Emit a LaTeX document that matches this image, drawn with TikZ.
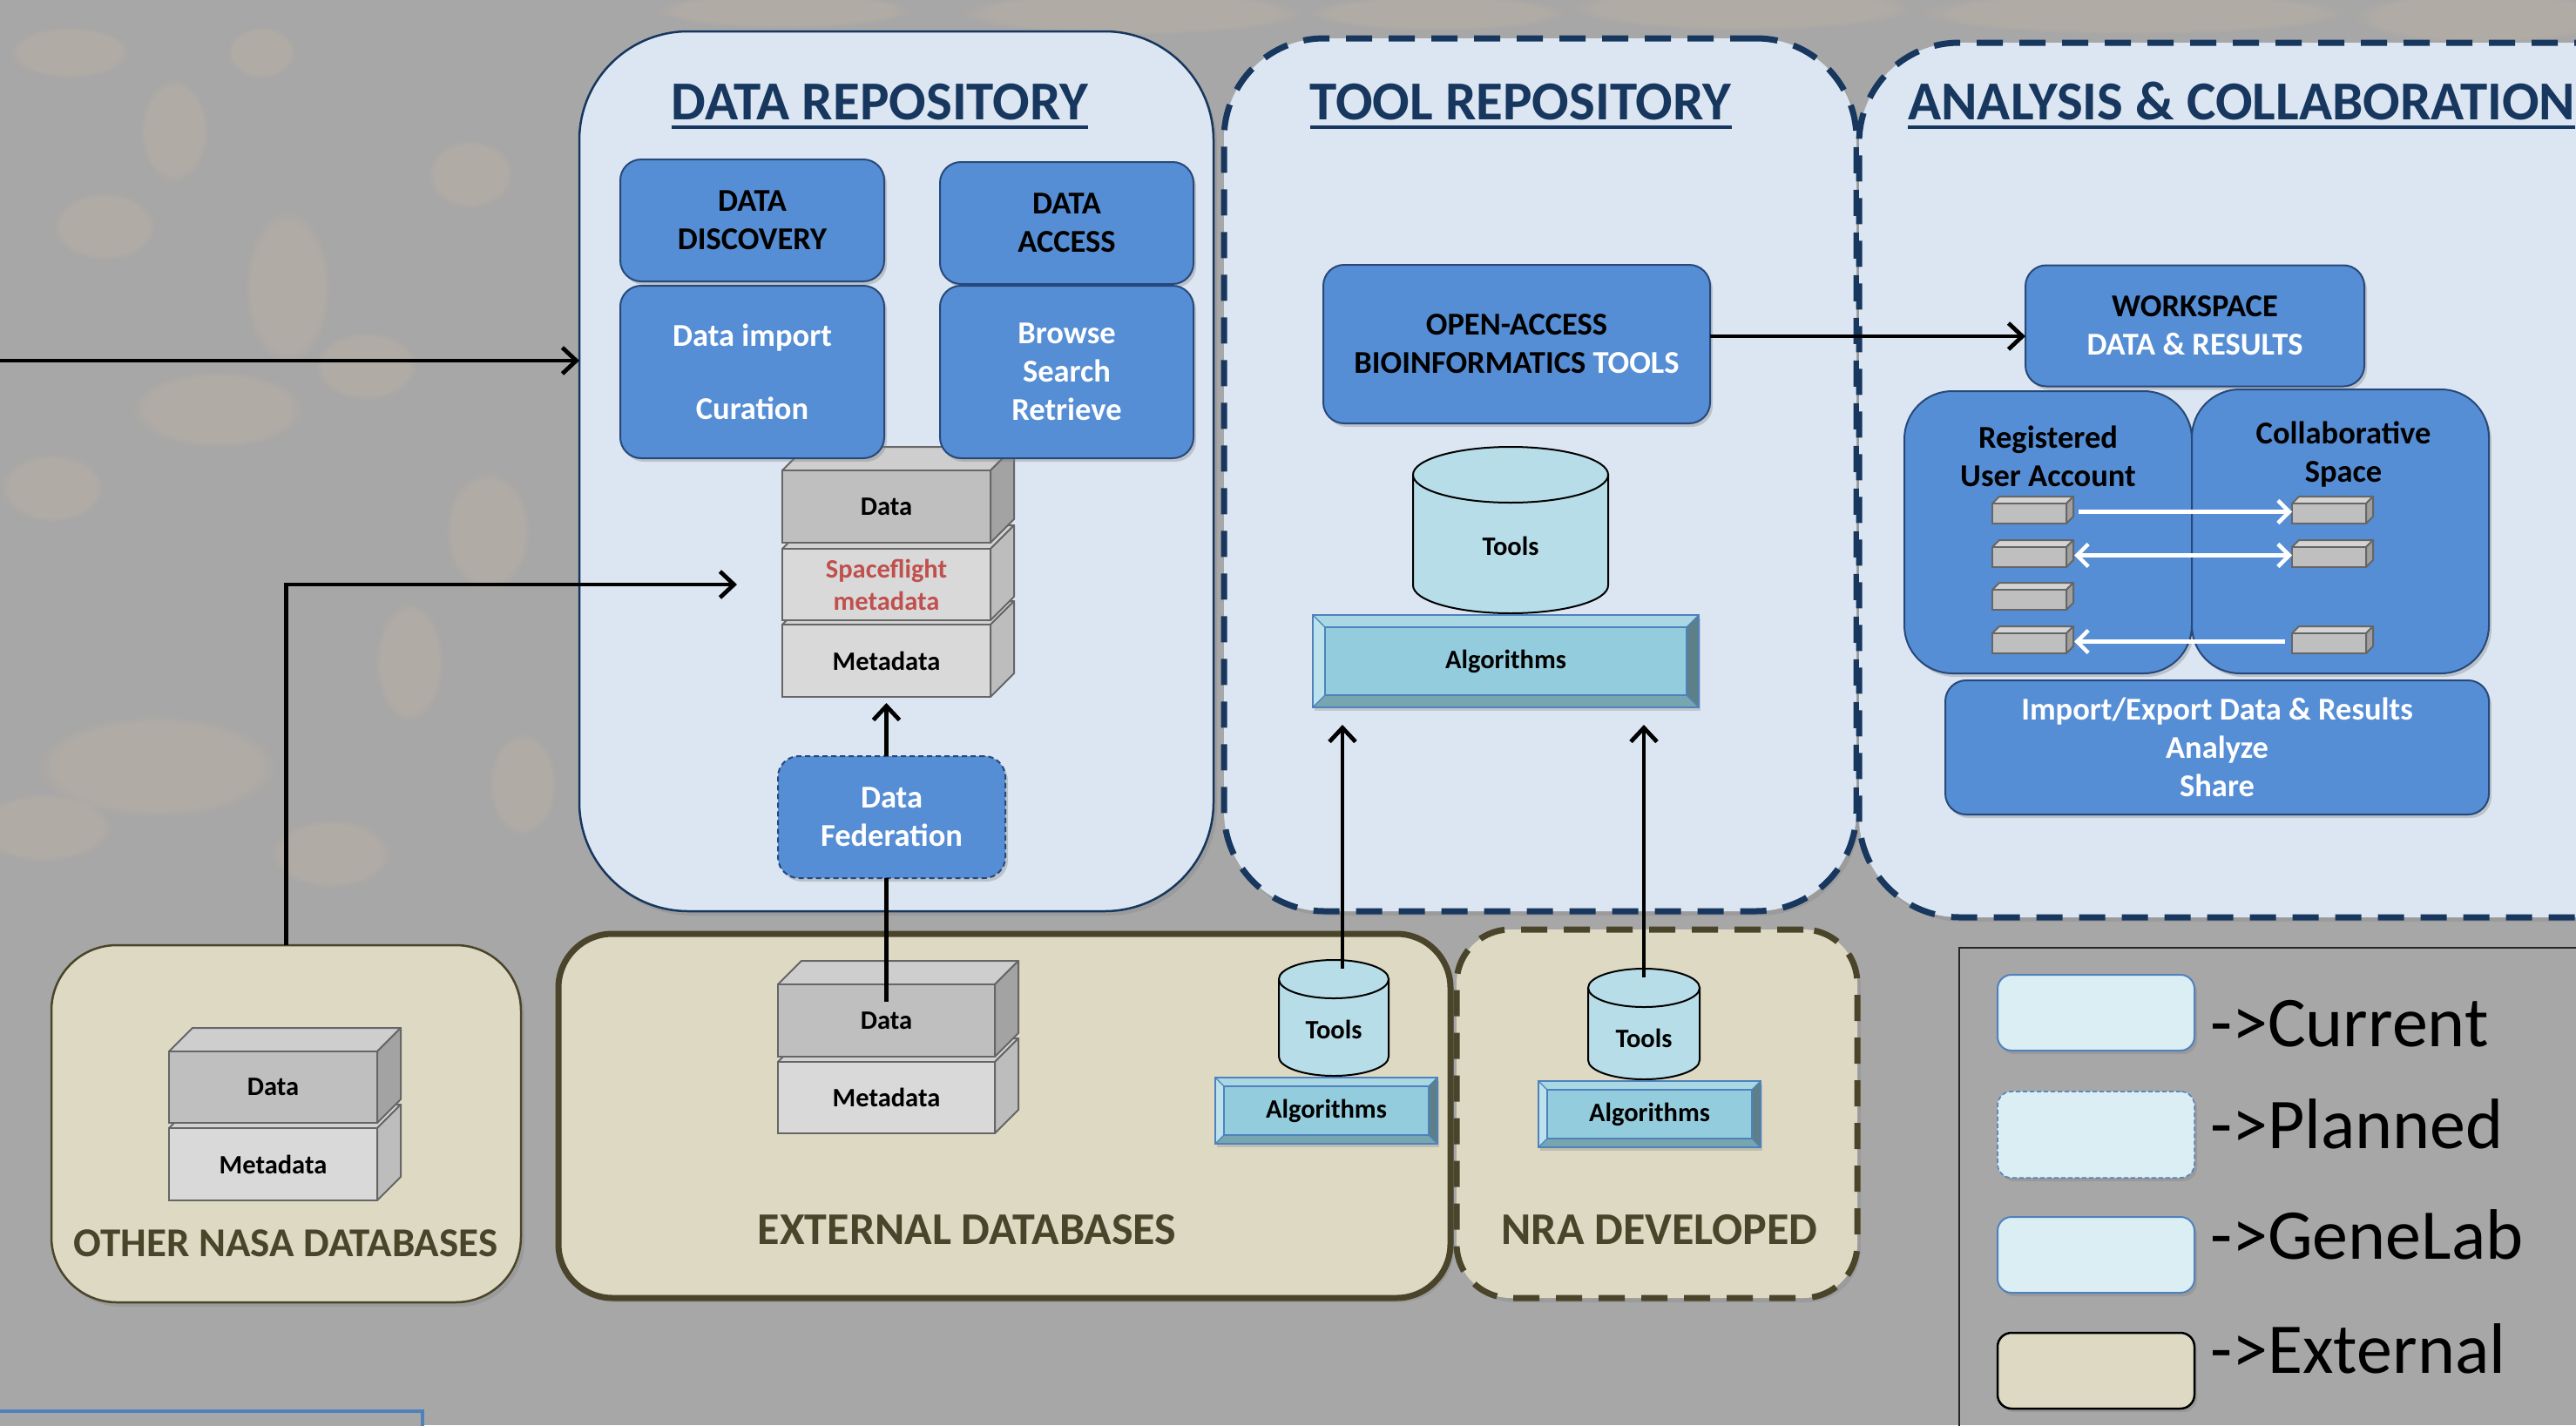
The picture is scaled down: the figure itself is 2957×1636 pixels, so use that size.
\documentclass[tikz,border=0pt]{standalone}
\usepackage{fontspec}
\setmainfont{Carlito}
\usetikzlibrary{arrows.meta,shadows,fadings,calc}
\definecolor{bgc}{HTML}{A7A7A7}
\definecolor{lblue}{HTML}{DCE6F2}
\definecolor{navy}{HTML}{17375E}
\definecolor{mblue}{HTML}{558ED5}
\definecolor{mbord}{HTML}{27487A}
\definecolor{tanc}{HTML}{DDD9C3}
\definecolor{olive}{HTML}{4A452A}
\definecolor{cylc}{HTML}{B7DDE8}
\definecolor{algc}{HTML}{93CDDD}
\definecolor{algT}{HTML}{A9D8E4}
\definecolor{algL}{HTML}{BCE2EC}
\definecolor{algB}{HTML}{77A6B0}
\definecolor{algR}{HTML}{5C7F88}
\definecolor{algbord}{HTML}{4F81BD}
\definecolor{redtxt}{HTML}{C0504D}
\definecolor{swc}{HTML}{DBEEF4}
\definecolor{dfront}{HTML}{BFBFBF}
\definecolor{dtop}{HTML}{CECECE}
\definecolor{dside}{HTML}{A3A3A3}
\definecolor{mfront}{HTML}{D9D9D9}
\definecolor{mtop}{HTML}{D2D2D2}
\definecolor{mside}{HTML}{BDBDBD}
\definecolor{sfront}{HTML}{BFBFBF}
\definecolor{stop}{HTML}{D4D4D4}
\definecolor{sside}{HTML}{A0A0A0}
\definecolor{blob}{HTML}{CDB8A0}
\newcommand\bxf{\fontsize{36.5}{44}\selectfont\bfseries}
\newcommand\cbf{\fontsize{30.5}{37}\selectfont\bfseries}
\newcommand\ttlf{\fontsize{63}{70}\selectfont\bfseries}
\newcommand\lblf{\fontsize{52}{60}\selectfont\bfseries}
\newcommand\legf{\fontsize{82}{90}\selectfont}
% name, x, y (top-left of front), w, h, depth, colour prefix, text
\newcommand\cubenode[8]{%
  \filldraw[cubeline, fill=#7top] (#2,#3) -- ++(#6,-#6) -- ++(#4,0) -- ++(-#6,#6) -- cycle;
  \filldraw[cubeline, fill=#7side] (#2+#4,#3) -- ++(#6,-#6) -- ++(0,#5) -- ++(-#6,#6) -- cycle;
  \node[cubefront, fill=#7front, minimum width=#4pt, minimum height=#5pt, anchor=north west] (#1) at (#2,#3) {#8};
}
% name, cx, ytop, ybottom, rx, ry, text, text y
\newcommand\mkcyl[8]{%
  \filldraw[fill=cylc, draw=black, line width=2pt] (#2-#5,#3) -- (#2-#5,#4) arc[start angle=180, end angle=0, x radius=#5, y radius=#6] -- (#2+#5,#3) -- cycle;
  \filldraw[fill=cylc, draw=black, line width=2pt] (#2,#3) ellipse [x radius=#5, y radius=#6];
  \coordinate (#1top) at (#2,#3-#6);
  \node[cubetext] (#1) at (#2,#8) {#7};
}
% name, cx, cy, w, h, bevel, text
\newcommand\bevelbox[7]{%
  \node[draw=algbord, line width=2.5pt, fill=algc, minimum width=#4pt, minimum height=#5pt, inner sep=0pt, outer sep=0pt, drop shadow={opacity=0.3,shadow xshift=2pt,shadow yshift=-4pt}] (#1) at (#2,#3) {};
  \fill[algT] (#1.north west) -- (#1.north east) -- ++(-#6,#6) -- ($(#1.north west)+(#6,#6)$) -- cycle;
  \fill[algL] (#1.north west) -- ++(#6,#6) -- ($(#1.south west)+(#6,-#6)$) -- (#1.south west) -- cycle;
  \fill[algB] (#1.south west) -- ++(#6,-#6) -- ($(#1.south east)+(-#6,-#6)$) -- (#1.south east) -- cycle;
  \fill[algR] (#1.north east) -- ++(-#6,#6) -- ($(#1.south east)+(-#6,-#6)$) -- (#1.south east) -- cycle;
  \draw[algbord, line width=2pt] ($(#1.north west)+(#6,#6)$) rectangle ($(#1.south east)+(-#6,-#6)$);
  \draw[algbord, line width=1.2pt] (#1.north west) -- ++(#6,#6) (#1.north east) -- ++(-#6,#6) (#1.south west) -- ++(#6,-#6) (#1.south east) -- ++(-#6,-#6);
  \draw[algbord, line width=2.5pt] (#1.north west) rectangle (#1.south east);
  \node[cubetext] (#1t) at (#1) {#7};
}
\begin{document}
\begin{tikzpicture}[x=1pt,y=-1pt,
  cont/.style={fill=lblue, inner sep=0pt, outer sep=0pt, drop shadow={opacity=0.3, shadow xshift=4pt, shadow yshift=-5pt}},
  tanbox/.style={fill=tanc, draw=olive, inner sep=0pt, outer sep=0pt, drop shadow={opacity=0.3, shadow xshift=4pt, shadow yshift=-5pt}},
  bluebox/.style={fill=mblue, draw=mbord, line width=2pt, rounded corners=24pt, inner sep=0pt, outer sep=0pt, align=center, font=\bxf, drop shadow={opacity=0.35, shadow xshift=3pt, shadow yshift=-4pt}},
  cubeline/.style={draw=black!60, line width=2pt, line join=round},
  cubefront/.style={draw=black!60, line width=2pt, inner sep=0pt, outer sep=0pt, align=center, font=\cbf},
  cubetext/.style={inner sep=0pt, align=center, font=\cbf},
  conn/.style={draw=black, line width=4.8pt, -{Straight Barb[length=16pt, width=30pt]}},
  plainline/.style={draw=black, line width=4.8pt},
  warr/.style={draw=white, line width=4.5pt},
  wtip/.style={-{Straight Barb[length=13pt, width=26pt]}},
  wtips/.style={{Straight Barb[length=13pt, width=26pt]}-{Straight Barb[length=13pt, width=26pt]}},
  ttl/.style={inner sep=0pt, text=navy, font=\ttlf},
  lbl/.style={inner sep=0pt, text=olive, font=\lblf},
  swatch/.style={fill=swc, draw=algbord, line width=2pt, rounded corners=16pt, inner sep=0pt, outer sep=0pt, minimum width=226pt, drop shadow={opacity=0.35, shadow xshift=3pt, shadow yshift=-4pt}},
  legtext/.style={inner sep=0pt, anchor=base west, font=\legf}
]
\useasboundingbox (0,0) rectangle (2957,1636);
\clip (0,0) rectangle (2957,1636);
\fill[bgc] (0,0) rectangle (2957,1636);
% blurred background texture
\foreach \bx/\by/\rx/\ry in {80/60/70/30, 200/150/40/60, 120/260/60/40, 330/330/50/90, 60/560/60/40,
  250/470/100/45, 420/420/60/40, 560/610/50/70, 470/760/40/70, 180/880/140/60, 50/950/80/40,
  380/980/70/40, 600/900/40/60, 300/60/40/30, 540/200/50/40, 900/12/150/20, 1300/15/200/25,
  1650/15/150/20, 2000/10/200/25, 2450/15/250/25, 2850/20/150/30}
  \fill[blob, opacity=0.28, path fading=circle with fuzzy edge 20 percent] (\bx,\by) ellipse [x radius=\rx, y radius=\ry];

% ---------- containers ----------
\node[cont, draw=navy, line width=2.5pt, rounded corners=125pt, minimum width=728pt, minimum height=1010pt] (drepo) at (1029,541) {};
\node[cont, draw=navy, line width=7pt, dash pattern=on 30pt off 19pt, rounded corners=115pt, minimum width=726pt, minimum height=1002pt] (trepo) at (1768,545) {};
\node[cont, draw=navy, line width=7pt, dash pattern=on 30pt off 19pt, rounded corners=115pt, minimum width=966pt, minimum height=1004pt] (arepo) at (2617,551) {};

\node[tanbox, line width=2.5pt, rounded corners=75pt, minimum width=539pt, minimum height=410pt] (onasa) at (328.5,1290) {};
\node[tanbox, line width=7pt, rounded corners=62pt, minimum width=1024pt, minimum height=418pt] (extdb) at (1153,1281) {};
\node[tanbox, line width=7pt, dash pattern=on 30pt off 19pt, rounded corners=62pt, minimum width=460pt, minimum height=423pt] (nra) at (1902,1278.5) {};

% ---------- titles ----------
\node[ttl, anchor=base] (t1) at (1010,137) {DATA REPOSITORY};
\draw[navy, line width=4.5pt] ($(t1.base west)+(0,9)$) -- ($(t1.base east)+(0,9)$);
\node[ttl, anchor=base] (t2) at (1745.5,137) {TOOL REPOSITORY};
\draw[navy, line width=4.5pt] ($(t2.base west)+(0,9)$) -- ($(t2.base east)+(0,9)$);
\node[ttl, anchor=base west] (t3) at (2190,137) {ANALYSIS \& COLLABORATION};
\draw[navy, line width=4.5pt] ($(t3.base west)+(0,9)$) -- ($(t3.base east)+(0,9)$);

% ---------- data repository stack ----------
\cubenode{dmeta}{898}{717}{239}{83}{27}{m}{Metadata}
\cubenode{dspf}{898}{630}{239}{82}{27}{m}{\textcolor{redtxt}{Spaceflight}\\\textcolor{redtxt}{metadata}}
\cubenode{ddata}{898}{540}{239}{83}{27}{d}{Data}

% ---------- data repository boxes ----------
\node[bluebox, minimum width=303pt, minimum height=140pt] (disc) at (863.5,253) {DATA\\DISCOVERY};
\node[bluebox, text=white, minimum width=303pt, minimum height=198pt] (imp) at (863.5,427) {Data import\\[40pt]Curation};
\node[bluebox, minimum width=291pt, minimum height=140pt] (acc) at (1224.5,256) {DATA\\ACCESS};
\node[bluebox, text=white, minimum width=291pt, minimum height=198pt] (brw) at (1224.5,427) {Browse\\Search\\Retrieve};
\node[bluebox, dash pattern=on 6pt off 4pt, text=white, minimum width=261pt, minimum height=140pt] (fed) at (1023.5,938) {Data\\Federation};

% ---------- other NASA / external stacks ----------
\cubenode{ometa}{194}{1295}{239}{83}{27}{m}{Metadata}
\cubenode{odata}{194}{1207}{239}{82}{27}{d}{Data}
\cubenode{emeta}{893}{1219}{249}{82}{27}{m}{Metadata}
\cubenode{edata}{893}{1130}{249}{83}{27}{d}{Data}

\node[lbl] (onasal) at (328,1427) {\fontsize{47}{54}\selectfont OTHER NASA DATABASES};
\node[lbl] (extl) at (1110,1411.5) {EXTERNAL DATABASES};
\node[lbl] (nral) at (1905,1411.5) {NRA DEVELOPED};

% ---------- tool repository ----------
\node[bluebox, minimum width=444pt, minimum height=182pt] (oa) at (1741,395) {OPEN-ACCESS\\BIOINFORMATICS \textcolor{white}{TOOLS}};
\mkcyl{ttools}{1734}{545}{672}{112}{32}{Tools}{627}
\bevelbox{talg}{1728.5}{759}{443}{106}{14}{Algorithms}

\mkcyl{etools}{1531}{1124}{1213}{63}{22}{Tools}{1182}
\bevelbox{ealg}{1522.5}{1275}{255}{76}{10}{Algorithms}
\mkcyl{ntools}{1887}{1134}{1217}{64}{22}{Tools}{1192}
\bevelbox{nalg}{1893.5}{1279}{255}{76}{10}{Algorithms}

% ---------- analysis & collaboration ----------
\node[bluebox, minimum width=389pt, minimum height=139pt] (ws) at (2519.5,374) {WORKSPACE\\\textcolor{white}{DATA \& RESULTS}};
\node[bluebox, rounded corners=55pt, minimum width=330pt, minimum height=324pt] (reg) at (2351,611) {};
\node[bluebox, rounded corners=55pt, minimum width=341pt, minimum height=326pt] (col) at (2686.5,610) {};
\node[cubetext, font=\bxf] (regt) at (2351,524) {Registered\\User Account};
\node[cubetext, font=\bxf] (colt) at (2690,522) {Collaborative\\Space};
\node[bluebox, text=white, minimum width=624pt, minimum height=154pt] (ie) at (2545,858) {Import/Export Data \& Results\\Analyze\\Share};

\cubenode{l1}{2287}{578}{85}{23}{8}{s}{}
\cubenode{l2}{2287}{628}{85}{23}{8}{s}{}
\cubenode{l3}{2287}{677}{85}{23}{8}{s}{}
\cubenode{l4}{2287}{727}{85}{23}{8}{s}{}
\cubenode{r1}{2631}{578}{85}{23}{8}{s}{}
\cubenode{r2}{2631}{628}{85}{23}{8}{s}{}
\cubenode{r4}{2631}{727}{85}{23}{8}{s}{}
\draw[warr, wtip] ($(l1.east)+(14,-2)$) -- ($(r1.west)+(0,-2)$);
\draw[warr, wtips] ($(l2.east)+(9,-2)$) -- ($(r2.west)+(0,-2)$);
\draw[warr, wtip] ($(r4.west)+(-8,-2)$) -- ($(l4.east)+(9,-2)$);

% ---------- connectors ----------
\coordinate (leftin) at (0,414);
\draw[conn] (leftin) -- (leftin -| drepo.west);
\draw[conn, shorten >=52pt] (onasa.north) |- (dspf.west);
\draw[conn, shorten >=7pt] (dmeta.south |- fed.north) -- (dmeta.south);
\draw[plainline, shorten >=-20pt] (dmeta.south |- fed.south) -- (edata.north -| dmeta.south);
\coordinate (etline) at (1541,1112);
\draw[conn, shorten >=20pt] (etline) -- (etline |- talg.south);
\coordinate (ntline) at (1887,1122);
\draw[conn, shorten >=20pt] (ntline) -- (ntline |- talg.south);
\coordinate (oaout) at (1963,386);
\draw[conn] (oaout) -- (oaout -| ws.west);

% ---------- legend ----------
\node[draw=black!85, line width=2pt, inner sep=0pt, anchor=north west, minimum width=800pt, minimum height=700pt] (leg) at (2248,1087) {};
\node[swatch, minimum height=87pt] (sw1) at (2406,1162.5) {};
\node[swatch, dash pattern=on 5pt off 3pt, line width=1.5pt, minimum height=99pt] (sw2) at (2406,1302.5) {};
\node[swatch, minimum height=87pt] (sw3) at (2406,1440.5) {};
\node[swatch, fill=tanc, draw=black, line width=2.5pt, minimum height=87pt] (sw4) at (2406,1573.5) {};
\node[legtext] (lg1) at (2537,1201) {->Current};
\node[legtext] (lg2) at (2537,1318) {->Planned};
\node[legtext] (lg3) at (2537,1445) {->GeneLab};
\node[legtext] (lg4) at (2537,1576) {->External};

% ---------- partial box bottom-left ----------
\node[draw=algbord, fill=bgc, line width=4pt, inner sep=0pt, anchor=north east, minimum width=600pt, minimum height=200pt, drop shadow={opacity=0.3, shadow xshift=2pt, shadow yshift=-4pt}] (partbox) at (487,1618) {};
\end{tikzpicture}
\end{document}
